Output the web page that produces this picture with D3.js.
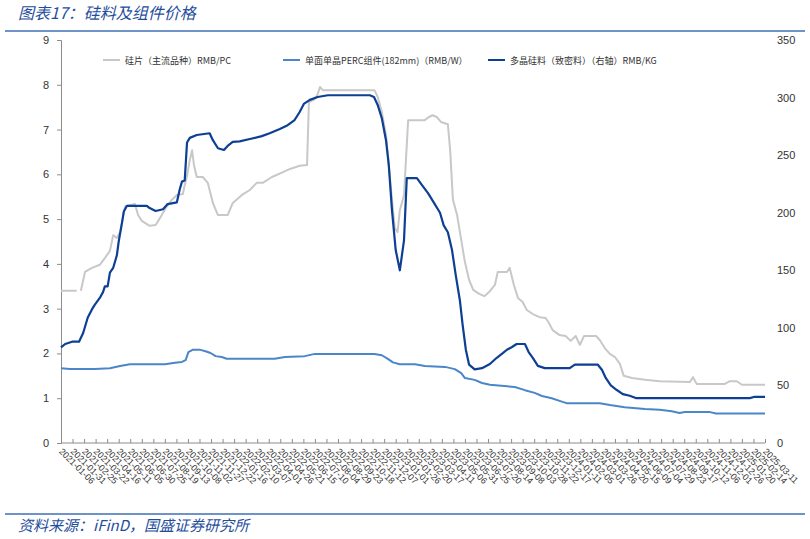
<!DOCTYPE html>
<html><head><meta charset="utf-8">
<script src="https://cdn.jsdelivr.net/npm/d3@7"></script>
<style>
body{margin:0;background:#fff;}
svg{display:block;}
</style></head>
<body><svg id="c" width="810" height="539"></svg>
<script>
const titleText = "图表17：硅料及组件价格";
const sourceText = "资料来源：iFinD，国盛证券研究所";
const seriesNames = ["硅片（主流品种）RMB/PC", "单面单晶PERC组件(182mm)（RMB/W）", "多晶硅料（致密料）（右轴）RMB/KG"];
const leftTicks = [0,1,2,3,4,5,6,7,8,9];
const rightTicks = [0,50,100,150,200,250,300,350];
const xTickLabels = ["2021-01-06","2021-01-31","2021-02-25","2021-03-22","2021-04-16","2021-05-11","2021-06-05","2021-06-30","2021-07-25","2021-08-19","2021-09-13","2021-10-08","2021-11-02","2021-11-27","2021-12-22","2022-01-16","2022-02-10","2022-03-07","2022-04-01","2022-04-26","2022-05-21","2022-06-15","2022-07-10","2022-08-04","2022-08-29","2022-09-23","2022-10-18","2022-11-12","2022-12-07","2023-01-01","2023-01-26","2023-02-20","2023-03-17","2023-04-11","2023-05-06","2023-05-31","2023-06-25","2023-07-20","2023-08-14","2023-09-08","2023-10-03","2023-10-28","2023-11-22","2023-12-17","2024-01-11","2024-02-05","2024-03-01","2024-03-26","2024-04-20","2024-05-15","2024-06-09","2024-07-04","2024-07-29","2024-08-23","2024-09-17","2024-10-12","2024-11-06","2024-12-01","2024-12-26","2025-01-20","2025-02-14","2025-03-11"];

// 硅片（主流品种）RMB/PC — left axis (null = gap)
const waferData = [
["2021-01-06",3.4],["2021-01-25",3.4],["2021-02-09",3.4],["2021-02-14",null],
["2021-02-18",3.4],["2021-02-27",3.82],["2021-03-14",3.91],["2021-03-31",3.98],["2021-04-11",4.13],["2021-04-22",4.29],
["2021-04-29",4.64],["2021-05-07",4.58],["2021-05-14",4.71],["2021-05-25",5.29],["2021-06-15",5.34],["2021-06-22",5.09],
["2021-06-30",4.96],["2021-07-17",4.85],["2021-07-30",4.87],["2021-08-10",5.05],["2021-08-21",5.25],["2021-09-03",5.43],
["2021-09-14",5.54],["2021-09-27",5.56],["2021-10-01",5.76],["2021-10-06",5.96],["2021-10-12",6.32],["2021-10-17",6.54],
["2021-10-21",6.21],["2021-10-27",5.94],["2021-11-09",5.94],["2021-11-20",5.81],["2021-12-01",5.36],["2021-12-12",5.09],
["2022-01-02",5.09],["2022-01-13",5.36],["2022-02-02",5.54],["2022-02-19",5.65],["2022-03-06",5.81],["2022-03-19",5.81],
["2022-04-08",5.94],["2022-05-02",6.05],["2022-05-17",6.12],["2022-06-07",6.19],["2022-06-23",6.21],["2022-06-27",7.61],
["2022-07-10",7.68],["2022-07-16",7.79],["2022-07-21",7.95],["2022-07-27",7.88],["2022-11-16",7.88],["2022-11-23",7.73],
["2022-12-02",7.39],["2022-12-11",6.88],["2022-12-17",6.21],["2022-12-24",5.43],["2022-12-30",4.8],["2023-01-05",4.71],
["2023-01-10",5.2],["2023-01-19",5.54],["2023-01-28",7.21],["2023-03-05",7.21],["2023-03-14",7.28],["2023-03-22",7.32],
["2023-03-31",7.28],["2023-04-09",7.17],["2023-04-24",7.12],["2023-04-29",6.54],["2023-05-05",5.43],["2023-05-14",5.09],
["2023-05-23",4.53],["2023-05-31",4.04],["2023-06-09",3.64],["2023-06-18",3.42],["2023-07-01",3.33],["2023-07-12",3.28],
["2023-07-24",3.39],["2023-08-04",3.53],["2023-08-10",3.82],["2023-08-30",3.82],["2023-09-05",3.91],["2023-09-14",3.53],
["2023-09-23",3.24],["2023-10-03",3.15],["2023-10-12",2.97],["2023-10-25",2.88],["2023-11-09",2.81],["2023-11-22",2.79],
["2023-11-29",2.68],["2023-12-07",2.52],["2023-12-22",2.41],["2024-01-04",2.39],["2024-01-15",2.28],["2024-01-26",2.39],
["2024-02-04",2.19],["2024-02-13",2.39],["2024-03-10",2.39],["2024-03-18",2.3],["2024-03-29",2.12],["2024-04-09",1.99],
["2024-04-20",1.92],["2024-05-01",1.76],["2024-05-09",1.5],["2024-05-27",1.45],["2024-06-24",1.41],["2024-07-26",1.38],
["2024-09-29",1.36],["2024-10-06",1.47],["2024-10-14",1.32],["2024-12-14",1.32],["2024-12-25",1.38],["2025-01-09",1.38],
["2025-01-20",1.3],["2025-03-11",1.3]
];

// 单面单晶PERC组件(182mm)（RMB/W） — left axis
const moduleData = [
["2021-01-06",1.67],["2021-01-25",1.65],["2021-03-20",1.65],["2021-04-22",1.67],["2021-05-14",1.72],["2021-06-04",1.76],
["2021-07-07",1.76],["2021-08-19",1.76],["2021-09-10",1.79],["2021-09-25",1.81],["2021-10-03",1.85],["2021-10-09",2.03],
["2021-10-18",2.08],["2021-11-04",2.08],["2021-11-15",2.05],["2021-11-26",2.01],["2021-12-07",1.94],["2021-12-20",1.92],
["2021-12-31",1.88],["2022-04-14",1.88],["2022-05-06",1.92],["2022-06-18",1.94],["2022-07-10",1.99],["2022-11-16",1.99],
["2022-12-02",1.96],["2022-12-15",1.88],["2022-12-26",1.8],["2023-01-10",1.76],["2023-02-12",1.76],["2023-03-05",1.72],
["2023-04-18",1.7],["2023-05-09",1.65],["2023-05-23",1.56],["2023-05-31",1.45],["2023-06-21",1.41],["2023-07-07",1.34],
["2023-07-24",1.3],["2023-09-16",1.25],["2023-10-08",1.18],["2023-10-29",1.12],["2023-11-14",1.05],["2023-12-05",1.0],
["2023-12-22",0.94],["2024-01-06",0.89],["2024-03-18",0.89],["2024-04-09",0.85],["2024-05-11",0.8],["2024-06-24",0.76],
["2024-07-26",0.74],["2024-08-21",0.71],["2024-09-07",0.67],["2024-09-18",0.69],["2024-11-12",0.69],["2024-11-25",0.66],
["2025-03-11",0.66]
];

// 多晶硅料（致密料）（右轴）RMB/KG — right axis
const polyData = [
["2021-01-06",83],["2021-01-15",86],["2021-01-30",88],["2021-02-14",88],["2021-02-23",95.5],["2021-03-05",109],
["2021-03-14",116],["2021-03-20",120],["2021-03-31",126],["2021-04-07",131],["2021-04-11",136],["2021-04-17",136],
["2021-04-22",148],["2021-04-29",152],["2021-05-07",163],["2021-05-11",175],["2021-05-18",191],["2021-05-22",201],
["2021-05-29",206],["2021-07-11",206],["2021-07-17",204],["2021-07-30",201.5],["2021-08-15",203],["2021-08-25",207.5],
["2021-09-14",209],["2021-09-20",220],["2021-09-25",227],["2021-10-01",228],["2021-10-06",261],["2021-10-12",265],
["2021-10-27",267.5],["2021-11-24",269],["2021-12-01",263],["2021-12-12",256],["2021-12-25",254.5],["2022-01-02",258],
["2022-01-13",261.5],["2022-01-28",262],["2022-02-19",264],["2022-03-17",266.5],["2022-04-03",269],["2022-04-25",272.7],
["2022-05-12",276],["2022-05-27",280.5],["2022-06-07",287.5],["2022-06-16",294.5],["2022-06-29",298],["2022-07-16",300.5],
["2022-08-07",302],["2022-11-06",302],["2022-11-15",300.5],["2022-11-23",293.6],["2022-12-02",282],["2022-12-11",263],
["2022-12-17",241.5],["2022-12-24",202],["2023-01-01",167.6],["2023-01-10",150],["2023-01-19",176],["2023-01-25",230],
["2023-02-16",230],["2023-02-27",224],["2023-03-12",217],["2023-03-25",208.5],["2023-04-07",200],["2023-04-15",189],
["2023-04-24",183],["2023-05-03",167.6],["2023-05-11",146],["2023-05-20",124],["2023-05-26",102.5],["2023-06-02",81],
["2023-06-09",68],["2023-06-21",64],["2023-07-07",65],["2023-07-24",68.6],["2023-08-08",74],["2023-08-21",78],
["2023-08-30",81],["2023-09-10",83.4],["2023-09-20",86],["2023-10-08",86],["2023-10-16",79],["2023-10-25",74],
["2023-11-05",67],["2023-11-20",65],["2024-01-13",65],["2024-01-24",68],["2024-03-14",68],["2024-03-23",63.4],
["2024-03-31",56.5],["2024-04-11",50],["2024-04-24",46],["2024-05-07",42.5],["2024-05-22",41],["2024-06-04",39],
["2025-02-06",39],["2025-02-15",40],["2025-03-11",40]
];

const parse = d3.timeParse("%Y-%m-%d");
const svg = d3.select("#c");
const m = {l:61, r:765, t:40, b:443};
const x = d3.scaleTime().domain([parse(xTickLabels[0]), parse(xTickLabels[xTickLabels.length-1])]).range([m.l, m.r]);
const yL = d3.scaleLinear().domain([0,9]).range([m.b, m.t]);
const yR = d3.scaleLinear().domain([0,350]).range([m.b, m.t]);

const blueTxt = "#1f4e9c";
const cjk = "'Noto Sans CJK SC','Noto Sans',sans-serif";
const lat = "'Liberation Sans',Arial,sans-serif";

// title
svg.append("text").attr("x",18).attr("y",19).attr("fill",blueTxt).attr("font-family",cjk)
  .attr("font-style","italic").attr("font-size",16).text(titleText);
svg.append("line").attr("x1",5).attr("x2",805).attr("y1",31).attr("y2",31).attr("stroke","#3f6fb5").attr("stroke-width",1.5);
svg.append("line").attr("x1",5).attr("x2",805).attr("y1",514).attr("y2",514).attr("stroke","#3f6fb5").attr("stroke-width",1.5);
svg.append("text").attr("x",18).attr("y",531).attr("fill",blueTxt).attr("font-family",cjk)
  .attr("font-style","italic").attr("font-size",15).text(sourceText);

// left axis
const gL = svg.append("g").attr("transform",`translate(${m.l},0)`)
  .call(d3.axisLeft(yL).tickValues(leftTicks).tickSize(4).tickPadding(8).tickFormat(d3.format("d")));
gL.selectAll("path,line").attr("stroke","#8c8c8c");
gL.selectAll("text").attr("font-family",lat).attr("font-size",11).attr("fill","#333");

// right axis labels
const gR = svg.append("g").attr("transform",`translate(${m.r},0)`)
  .call(d3.axisRight(yR).tickValues(rightTicks).tickSize(0).tickPadding(12).tickFormat(d3.format("d")));
gR.select("path").remove();
gR.selectAll("text").attr("font-family",lat).attr("font-size",11).attr("fill","#333");

// bottom axis
const gB = svg.append("g").attr("transform",`translate(0,${m.b})`)
  .call(d3.axisBottom(x).tickValues(xTickLabels.map(parse)).tickSize(-4).tickFormat(d3.timeFormat("%Y-%m-%d")));
gB.selectAll("path,line").attr("stroke","#8c8c8c");
gB.select("path").attr("d",`M${m.l},0H${m.r}`);
gB.selectAll("text").attr("font-family",lat).attr("font-size",9).attr("fill","#333")
  .attr("text-anchor","start").attr("dy",null).attr("y",null)
  .attr("transform","translate(-3,9) rotate(45)");

// lines
function draw(data, yS, color, w){
  const line = d3.line().defined(d=>d[1]!==null).x(d=>x(parse(d[0]))).y(d=>yS(d[1]));
  svg.append("path").datum(data).attr("d",line).attr("fill","none").attr("stroke",color)
    .attr("stroke-width",w).attr("stroke-linejoin","round");
}
const colors = ["#c8c8c8","#4a86c8","#0d3f94"];
draw(waferData, yL, colors[0], 2);
draw(moduleData, yL, colors[1], 2);
draw(polyData, yR, colors[2], 2.2);

// legend
const legX = [103, 283, 488];
seriesNames.forEach((n,i)=>{
  svg.append("line").attr("x1",legX[i]).attr("x2",legX[i]+17).attr("y1",60).attr("y2",60)
    .attr("stroke",colors[i]).attr("stroke-width",2);
  svg.append("text").attr("x",legX[i]+22).attr("y",63.5).attr("font-family",cjk).attr("font-size",9)
    .attr("fill","#333").text(n);
});
</script></body></html>
